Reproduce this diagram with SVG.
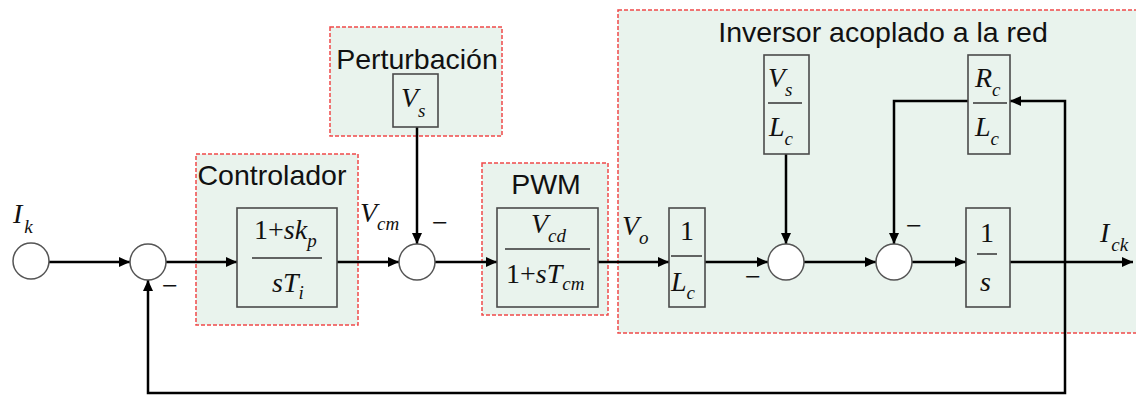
<svg xmlns="http://www.w3.org/2000/svg" width="1136" height="396" viewBox="0 0 1136 396">
<defs>
<marker id="ah" markerUnits="userSpaceOnUse" markerWidth="12" markerHeight="10" refX="11" refY="5" orient="auto">
<path d="M0,0 L11,5 L0,10 z" fill="#000"/>
</marker>
<style>
.region{fill:#e9f3ed;stroke:#f04a4a;stroke-width:1.5;stroke-dasharray:4 2}
.blk{fill:#e9f3ed;stroke:#4a4a4a;stroke-width:1.6}
.sum{fill:#fff;stroke:#555;stroke-width:1.5}
.frac{stroke:#333;stroke-width:1.5}
.lbl{font-family:"Liberation Sans",Arial,sans-serif;font-size:28.5px;fill:#111}
.m{font-family:"Liberation Serif","Times New Roman",serif;font-size:28px;fill:#111}
.i{font-style:italic}
.sub{font-size:19px;font-style:italic}
.wire{fill:none;stroke:#000;stroke-width:2.5}
.minus{font-family:"Liberation Serif","Times New Roman",serif;font-size:28px;fill:#111;text-anchor:middle}
</style>
</defs>
<rect width="1136" height="396" fill="#fff"/>

<g id="region-inversor">
<rect class="region" x="618" y="10" width="530" height="323"/>
<text class="lbl" x="883" y="42" text-anchor="middle">Inversor acoplado a la red</text>
</g>
<g id="region-perturbacion">
<rect class="region" x="330" y="27" width="172" height="109"/>
<text class="lbl" x="417" y="69" text-anchor="middle">Perturbación</text>
</g>
<g id="region-controlador">
<rect class="region" x="196" y="154" width="162" height="171"/>
<text class="lbl" x="272" y="185" text-anchor="middle">Controlador</text>
</g>
<g id="region-pwm">
<rect class="region" x="482" y="163" width="126" height="152"/>
<text class="lbl" x="546" y="194" text-anchor="middle">PWM</text>
</g>

<g id="connectors">
<line class="wire" x1="49" y1="262" x2="130" y2="262" marker-end="url(#ah)"/>
<line class="wire" x1="166" y1="262" x2="237" y2="262" marker-end="url(#ah)"/>
<line class="wire" x1="337" y1="262" x2="399" y2="262" marker-end="url(#ah)"/>
<line class="wire" x1="417" y1="127" x2="417" y2="244" marker-end="url(#ah)"/>
<line class="wire" x1="435" y1="262" x2="497" y2="262" marker-end="url(#ah)"/>
<line class="wire" x1="598" y1="262" x2="669" y2="262" marker-end="url(#ah)"/>
<line class="wire" x1="705" y1="262" x2="768" y2="262" marker-end="url(#ah)"/>
<line class="wire" x1="786" y1="154" x2="786" y2="244" marker-end="url(#ah)"/>
<line class="wire" x1="804" y1="262" x2="876" y2="262" marker-end="url(#ah)"/>
<polyline class="wire" points="968,101 894,101 894,244" marker-end="url(#ah)"/>
<line class="wire" x1="912" y1="262" x2="966" y2="262" marker-end="url(#ah)"/>
<line class="wire" x1="1010" y1="262" x2="1133" y2="262" marker-end="url(#ah)"/>
<polyline class="wire" points="1065,262 1065,393 148,393 148,280" marker-end="url(#ah)"/>
<polyline class="wire" points="1065,262 1065,101 1010,101" marker-end="url(#ah)"/>
</g>

<g id="src-ik">
<circle class="sum" cx="31" cy="261" r="18"/>
<text class="m" x="13" y="223" font-size="31"><tspan class="i">I</tspan><tspan class="sub" dx="2" dy="10">k</tspan></text>
</g>
<g id="sum1">
<circle class="sum" cx="148" cy="262" r="18"/>
<text class="minus" x="170" y="295">−</text>
</g>
<g id="controlador-block">
<rect class="blk" x="237" y="208" width="100" height="99"/>
<line class="frac" x1="252" y1="258" x2="322" y2="258"/>
<text class="m" x="254" y="239">1+<tspan class="i">sk</tspan><tspan class="sub" dy="8">p</tspan></text>
<text class="m" x="272" y="292"><tspan class="i">sT</tspan><tspan class="sub" dy="7">i</tspan></text>
</g>
<g id="label-vcm">
<text class="m" x="360" y="222" font-size="30"><tspan class="i">V</tspan><tspan class="sub" dy="8">cm</tspan></text>
</g>
<g id="sum2">
<circle class="sum" cx="417" cy="262" r="18"/>
<text class="minus" x="440" y="232">−</text>
</g>
<g id="vs-block">
<rect class="blk" x="393" y="74" width="45" height="53"/>
<text class="m" x="401" y="107" font-size="30"><tspan class="i">V</tspan><tspan class="sub" dy="10">s</tspan></text>
</g>
<g id="pwm-block">
<rect class="blk" x="497" y="208" width="101" height="99"/>
<line class="frac" x1="505" y1="249" x2="590" y2="249"/>
<text class="m" x="531" y="233"><tspan class="i">V</tspan><tspan class="sub" dy="9">cd</tspan></text>
<text class="m" x="506" y="283">1+<tspan class="i">sT</tspan><tspan class="sub" dy="7">cm</tspan></text>
</g>
<g id="label-vo">
<text class="m" x="622" y="235" font-size="30"><tspan class="i">V</tspan><tspan class="sub" dy="9">o</tspan></text>
</g>
<g id="inv-lc-block">
<rect class="blk" x="669" y="208" width="36" height="99"/>
<line class="frac" x1="671" y1="256" x2="702" y2="256"/>
<text class="m" x="680" y="240" font-size="30">1</text>
<text class="m" x="671" y="291" font-size="30"><tspan class="i">L</tspan><tspan class="sub" dy="8">c</tspan></text>
</g>
<g id="sum3">
<circle class="sum" cx="786" cy="262" r="18"/>
<text class="minus" x="753" y="286">−</text>
</g>
<g id="vs-lc-block">
<rect class="blk" x="764" y="55" width="45" height="99"/>
<line class="frac" x1="768" y1="103" x2="802" y2="103"/>
<text class="m" x="768" y="87" font-size="30"><tspan class="i">V</tspan><tspan class="sub" dy="9">s</tspan></text>
<text class="m" x="769" y="136" font-size="30"><tspan class="i">L</tspan><tspan class="sub" dy="9">c</tspan></text>
</g>
<g id="sum4">
<circle class="sum" cx="894" cy="262" r="18"/>
<text class="minus" x="914" y="235">−</text>
</g>
<g id="rc-lc-block">
<rect class="blk" x="968" y="55" width="42" height="99"/>
<line class="frac" x1="973" y1="103" x2="1007" y2="103"/>
<text class="m" x="975" y="87" font-size="30"><tspan class="i">R</tspan><tspan class="sub" dy="9">c</tspan></text>
<text class="m" x="975" y="136" font-size="30"><tspan class="i">L</tspan><tspan class="sub" dy="9">c</tspan></text>
</g>
<g id="integrator-block">
<rect class="blk" x="966" y="208" width="44" height="99"/>
<line class="frac" x1="977" y1="254" x2="997" y2="254"/>
<text class="m" x="980" y="242" font-size="32">1</text>
<text class="m" x="980" y="291" font-size="32"><tspan class="i">s</tspan></text>
</g>
<g id="label-ick">
<text class="m" x="1100" y="242" font-size="30"><tspan class="i">I</tspan><tspan class="sub" dx="2" dy="9">ck</tspan></text>
</g>
</svg>
